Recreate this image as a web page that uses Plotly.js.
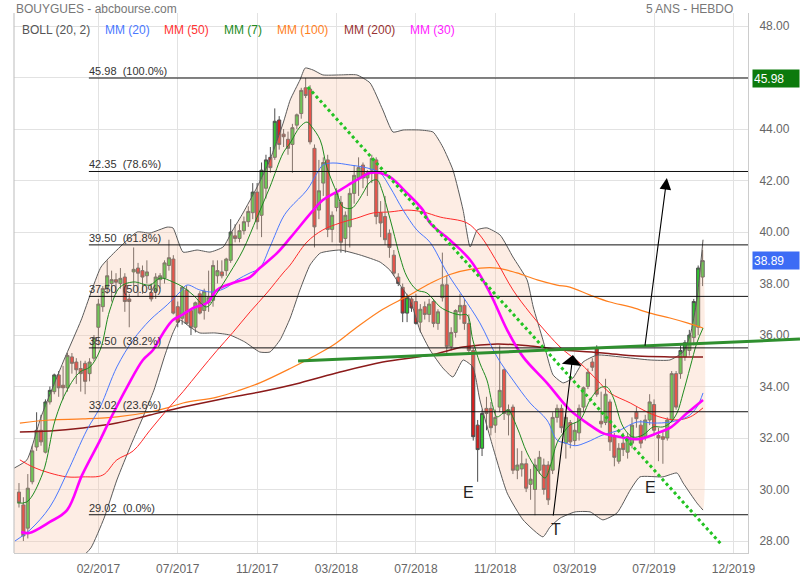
<!DOCTYPE html>
<html>
<head>
<meta charset="utf-8">
<script src="https://cdn.plot.ly/plotly-3.0.1.min.js"></script>
<style>html,body{margin:0;padding:0;background:#fff}#chart{width:800px;height:580px}</style>
</head>
<body>
<div id="chart"></div>
<script>
// ---- weekly candles (bar index 0..155) ----
const open = [29.9,29.4,28.5,30.3,31.65,32.3,31.45,33.4,33.8,34.45,
34.05,33.95,35.15,34.95,34.7,34.9,34.5,35.1,36.3,37.1,
37.85,38.0,38.15,38.0,38.25,37.4,38.45,38.6,38.5,38.3,
37.65,37.7,38.15,38.2,38.7,38.95,37.1,36.65,37.75,36.95,
36.3,37.6,36.95,37.25,37.35,38.3,38.45,38.5,38.9,39.85,
39.75,40.05,40.4,40.75,41.55,40.65,41.7,42.9,42.9,44.35,
43.8,43.6,43.4,44.15,44.6,45.6,45.55,43.25,40.85,41.9,
42.8,40.1,40.95,41.15,39.75,40.2,41.5,42.1,42.6,42.1,
42.4,42.8,40.75,40.6,39.95,39.1,38.25,37.85,36.85,37.4,
37.3,36.5,37.1,36.8,37.3,36.45,37.45,37.95,35.55,36.1,
36.9,37.15,36.45,35.4,32.5,31.6,33.15,33.15,32.5,33.2,
34.65,32.9,33.2,30.75,30.8,31.0,30.2,30.0,30.75,30.95,
30.95,30.75,32.8,33.15,31.8,32.6,31.9,32.2,33.2,34.0,
34.95,35.5,32.65,32.6,33.4,32.05,31.1,31.8,31.45,31.8,
33.0,32.5,32.05,32.7,33.3,32.1,32.05,32.0,32.7,34.5,
34.5,35.15,35.4,35.9,36.3,38.25];
const high = [30.25,29.7,30.6,31.7,33.0,32.9,33.5,34.0,34.5,34.6,
34.8,35.3,35.3,35.1,35.0,35.0,35.1,36.0,37.4,37.9,
38.9,38.5,38.4,38.6,38.4,37.6,39.4,38.8,38.7,38.9,
38.0,38.4,38.4,38.9,39.7,39.1,37.3,37.9,37.9,37.0,
37.3,37.7,37.8,38.5,38.9,38.9,38.9,39.0,40.5,40.3,
40.3,40.6,41.0,41.9,41.9,42.7,43.0,43.3,44.8,44.5,
44.0,43.9,44.2,44.6,45.6,45.98,45.7,43.4,42.8,42.9,
43.0,40.8,41.7,41.4,40.8,41.7,42.6,42.9,42.7,42.4,
43.0,42.9,41.2,41.4,40.1,39.3,38.4,38.0,37.6,37.5,
37.6,37.2,37.3,37.4,37.4,37.0,39.2,38.3,36.3,37.0,
37.6,37.4,36.8,35.5,32.7,33.1,33.6,33.4,33.1,35.6,
34.7,33.3,33.3,31.6,31.5,31.2,30.8,31.2,31.5,31.2,
31.1,33.0,33.3,33.3,32.9,32.7,32.6,33.3,34.0,34.7,
35.1,35.6,33.8,34.3,33.5,32.2,31.8,32.2,32.2,32.8,
33.2,32.7,32.9,33.7,33.5,32.4,32.3,32.8,34.6,34.6,
35.6,35.8,36.2,37.4,38.7,39.3];
const low = [29.3,28.0,28.1,30.2,31.5,31.7,31.4,33.3,33.7,33.6,
33.5,33.8,34.5,34.1,33.8,33.7,34.2,35.0,35.6,36.9,
37.6,37.3,37.6,37.8,36.9,36.3,37.9,37.5,37.6,38.0,
37.3,37.4,37.8,38.0,38.5,36.8,36.3,36.4,36.4,36.0,
36.1,36.8,36.6,36.9,37.1,38.0,38.2,38.3,38.8,39.6,
39.6,39.9,40.2,40.5,40.1,39.8,41.3,42.3,42.8,43.2,
43.3,43.0,42.3,44.0,44.4,45.2,43.4,39.4,40.5,41.4,
39.8,39.6,40.8,39.2,39.2,39.4,41.1,41.4,41.7,41.4,
41.9,40.3,39.8,39.5,39.0,38.3,37.9,36.5,36.5,36.9,
36.4,36.1,36.6,36.5,36.3,36.2,37.3,35.3,35.4,35.9,
36.6,36.2,35.3,31.9,30.3,31.3,32.3,32.1,32.2,33.0,
32.7,32.1,30.6,30.4,30.5,29.9,29.6,29.0,30.6,29.8,
29.4,30.6,32.6,32.2,31.2,31.6,31.7,31.9,33.0,33.9,
34.6,33.6,32.4,32.5,31.5,30.9,31.0,31.3,31.2,31.6,
32.4,31.6,31.9,32.5,32.1,31.1,31.0,31.9,32.6,33.1,
34.3,35.0,35.2,35.6,36.0,37.9];
const close = [29.5,28.2,30.05,31.5,32.3,31.85,33.4,33.85,34.45,33.95,
33.95,35.2,34.9,34.65,34.5,34.2,34.95,35.9,37.2,37.8,
38.3,38.15,38.05,38.2,37.3,37.3,38.55,38.4,38.25,38.45,
37.4,38.25,38.3,38.8,39.0,36.85,36.5,37.85,36.45,36.3,
37.25,36.85,37.7,37.45,38.7,38.5,38.3,38.95,40.0,39.75,
40.05,40.4,40.8,41.55,40.4,42.4,42.8,42.5,44.3,43.4,
43.7,43.25,44.05,44.55,45.5,45.3,43.5,40.2,41.6,42.7,
40.1,40.65,41.5,39.6,40.65,41.5,42.2,42.5,42.1,42.3,
42.85,40.6,40.35,39.7,39.4,38.4,38.0,36.85,37.45,37.05,
36.45,37.0,36.8,37.2,36.45,36.9,37.95,35.55,36.1,36.95,
37.15,36.45,35.4,32.05,31.55,32.95,32.95,32.4,32.8,33.85,
32.95,33.1,30.75,30.95,31.0,30.05,30.4,30.95,31.25,30.0,
29.6,32.8,33.15,32.4,32.8,31.85,32.3,33.15,33.95,34.55,
34.75,33.7,32.55,33.7,31.85,31.25,31.6,31.55,32.05,32.5,
32.75,31.8,32.7,33.4,32.3,32.0,31.95,32.7,34.5,33.2,
35.4,35.7,36.0,37.3,38.6,38.89];

// ---- indicator readings (x = bar index where read, y = price) ----
const mm7X = [-0.4,1.8,5.4,8.2,10.9,13.8,16.1,18.4,20.6,22.9,25.9,29.7,32.0,34.9,37.2,39.5,42.6,44.9,47.8,50.8,54.0,56.9,59.9,61.5,63.7,65.3,66.4,68.3,69.8,72.1,73.5,75.5,76.6,78.0,79.6,81.2,82.3,83.4,84.8,86.4,88.0,90.2,92.5,95.5,97.7,100.0,101.6,102.9,104.5,106.1,107.5,108.4,109.8,110.9,112.9,115.2,117.5,119.3,120.4,122.0,123.4,124.9,127.2,129.5,131.7,133.3,134.7,137.0,139.2,141.5,143.8,146.0,147.6,149.2,150.6,152.2,153.7,155.1];
const mm7Y = [29.48,29.52,30.64,32.7,33.86,34.56,34.76,35.42,36.97,37.86,38.06,37.94,38.21,38.06,37.86,37.55,37.09,37.63,38.41,39.3,40.58,41.75,43.07,43.46,44.08,44.27,44.08,43.57,42.52,41.51,40.97,40.93,41.13,41.51,41.94,42.02,41.63,40.97,40.08,39.03,38.25,37.75,37.63,37.09,36.89,36.78,36.78,35.81,34.91,34.25,33.2,32.82,32.97,33.09,32.43,31.42,30.76,30.45,30.87,31.81,32.19,32.5,32.7,33.48,33.94,33.98,33.59,32.43,32.04,32.12,32.43,32.43,32.58,32.97,33.75,34.76,35.69,36.27];

const mm20X = [-0.9,2.5,7.0,10.9,15.4,18.4,22.2,25.9,29.7,33.6,36.5,38.1,41.0,44.0,47.2,49.4,52.4,54.6,56.9,59.9,61.5,65.3,67.6,68.9,71.2,75.1,78.9,81.9,84.1,87.1,90.2,93.2,97.1,100.7,104.5,108.4,112.0,115.9,119.7,122.0,123.8,126.1,128.8,132.4,136.3,140.1,143.8,147.6,151.5,153.7,155.1];
const mm20Y = [28.0,28.43,29.32,30.64,32.31,33.2,34.76,35.81,36.58,37.17,37.67,37.94,37.75,37.67,37.86,38.14,38.41,38.6,39.42,40.58,40.95,41.63,42.29,42.6,42.68,42.6,42.49,42.29,41.75,40.85,40.08,39.6,38.41,37.48,36.47,35.15,34.25,33.36,32.7,31.92,31.81,31.7,31.84,32.12,32.31,32.62,32.58,32.62,32.82,33.2,33.75];

const mm30X = [0.5,2.3,7.0,10.9,14.3,18.4,20.6,24.5,28.1,30.4,32.7,34.9,37.0,39.5,42.6,44.9,48.5,52.4,54.6,58.5,61.5,66.4,68.9,72.8,76.6,79.6,81.9,84.1,88.0,91.6,93.2,97.7,102.3,106.8,110.7,114.3,119.7,124.9,128.8,132.4,136.3,140.8,144.7,147.6,151.5,155.1];
const mm30Y = [28.35,28.31,28.74,29.2,30.56,31.92,32.7,33.98,35.03,35.42,36.08,36.58,36.78,37.05,37.24,37.75,38.02,38.25,38.6,39.18,39.77,40.78,41.24,41.63,42.02,42.29,42.29,42.14,41.51,40.85,40.35,39.69,38.91,37.63,36.19,35.15,34.14,33.09,32.58,32.19,32.04,31.96,32.19,32.39,32.97,33.48];

const mm50X = [0.2,3.2,7.0,10.9,14.5,19.0,22.2,25.9,29.7,33.6,37.2,41.0,44.9,48.5,52.4,56.2,59.9,61.5,65.3,68.9,72.8,76.6,80.3,84.1,88.0,91.6,95.5,101.6,104.5,108.4,112.0,115.9,119.7,123.4,127.2,131.1,134.0,138.6,142.4,146.0,149.2,152.2,155.1];
const mm50Y = [31.15,30.87,30.64,30.49,30.49,30.56,31.15,31.5,32.3,33.1,33.8,34.6,35.4,36.1,36.9,37.63,38.41,38.72,39.61,40.08,40.35,40.54,40.74,40.78,40.85,40.78,40.58,40.35,39.88,38.83,37.75,36.85,36.08,35.42,34.91,34.25,33.75,33.36,33.01,32.78,32.7,32.82,33.17];

const mm100X = [0.2,7.0,14.5,22.2,29.7,33.6,37.2,44.9,50.1,54.6,61.5,66.0,71.2,76.6,82.5,88.0,93.2,97.7,102.3,108.4,112.9,117.5,122.0,124.9,129.5,134.0,138.6,143.1,147.6,151.5,155.1];
const mm100Y = [32.58,32.7,32.74,32.82,33.01,33.17,33.36,33.59,33.86,34.14,34.7,35.1,35.6,36.3,37.0,37.5,38.0,38.35,38.55,38.6,38.41,38.14,37.94,37.86,37.55,37.28,37.09,36.85,36.66,36.47,36.27];

const mm200X = [0.2,7.0,14.5,22.2,29.7,37.2,44.9,54.6,63.7,72.8,82.5,93.2,100.7,108.4,115.9,123.4,132.4,140.1,147.6,155.1];
const mm200Y = [32.23,32.27,32.39,32.58,32.89,33.2,33.48,33.79,34.14,34.56,34.95,35.22,35.53,35.65,35.57,35.42,35.3,35.18,35.15,35.15];

const bollUpX = [-1.1,1.8,5.0,10.2,14.1,18.6,22.2,26.8,29.7,33.6,34.9,37.2,40.4,43.3,46.3,48.5,50.8,54.0,56.9,59.9,61.5,63.7,64.9,66.7,68.9,72.8,76.6,79.6,82.5,84.8,87.1,90.9,93.9,96.1,98.4,100.7,102.3,103.9,106.1,109.1,112.0,115.2,116.6,118.8,121.1,123.4,125.6,127.9,131.1,136.3,143.1,147.6,150.6,152.2,153.7,155.1];
const bollUpY = [30.83,31.15,32.82,35.03,36.58,38.64,39.3,40.0,39.96,40.19,40.16,39.22,39.3,39.22,39.42,40.08,40.74,41.75,42.8,44.23,45.13,45.9,46.37,46.29,46.1,46.1,46.1,45.79,44.74,43.88,43.96,43.96,43.88,43.3,42.41,40.85,39.42,40.08,40.16,39.88,39.03,38.14,37.09,35.81,34.45,34.14,34.33,34.95,35.22,35.15,35.03,35.03,35.34,36.0,37.36,39.7];
const bollLoX = [-1.1,0,7.0,13.8,16.3,19.3,22.2,25.4,28.3,30.6,33.1,34.9,36.5,38.8,41.0,44.4,47.8,51.2,54.6,56.9,59.2,61.5,63.7,66.0,68.3,72.8,77.3,81.9,84.1,86.4,88.7,90.9,93.2,96.1,98.4,100.7,102.9,104.5,106.8,110.7,114.3,118.8,120.4,122.7,126.1,129.5,132.4,135.6,138.6,140.8,146.0,149.2,150.6,153.7,155.1];
const bollLoY = [26.2,26.3,26.6,27.3,27.73,28.89,30.37,31.73,32.89,33.86,35.22,36.08,36.58,36.31,36.08,36.08,36.0,35.73,35.34,35.34,35.81,36.66,37.75,38.72,39.18,39.3,39.11,38.83,38.52,37.94,37.36,36.19,35.42,34.72,34.37,35.03,34.76,33.48,32.04,29.86,28.82,28.16,28.54,28.89,29.13,29.13,28.82,29.09,29.98,30.49,30.49,30.64,30.25,29.48,29.2];

// ---- Fibonacci retracement ----
const fibLevels = [45.98, 42.35, 39.50, 37.50, 35.50, 33.02, 29.02];
const fibPct = ['100.0%', '78.6%', '61.8%', '50.0%', '38.2%', '23.6%', '0.0%'];

// ---- drawn trend lines: [x0, y0, x1, y1] ----
const resistanceLine = [0.387, 34.99, 1.0708, 35.84];  // x in paper fraction
const downTrend = [65.5, 45.63, 159.4, 27.84];            // x in bar index
const arrowUp1 = [121.1, 28.93, 125.6, 35.22];
const arrowUp2 = [141.9, 35.53, 146.9, 42.1];
const markers = [{t:'E', x:102.0, y:29.9}, {t:'T', x:121.8, y:28.43}, {t:'E', x:143.1, y:30.06}];

// ---- axis labels ----
const tickBars = [18, 36, 54, 72, 90, 108, 126, 144, 162];
const tickLabels = ['02/2017','07/2017','11/2017','03/2018','07/2018','11/2018','03/2019','07/2019','12/2019'];
const lastClose = 38.89;
const legendItems = [
  {t:'BOLL (20, 2)', c:'#555555', x:20},
  {t:'MM (20)', c:'#4a78ff', x:103},
  {t:'MM (50)', c:'#ff3333', x:162},
  {t:'MM (7)', c:'#228b22', x:222},
  {t:'MM (100)', c:'#ff7f1e', x:275},
  {t:'MM (200)', c:'#993333', x:342},
  {t:'MM (30)', c:'#ff22ff', x:408}
];

const idx = close.map((_, i) => i);
const font = 'Liberation Sans, Arial, sans-serif';

const traces = [];
// Bollinger fill
traces.push({
  type:'scatter', mode:'lines',
  x: bollUpX.concat(bollLoX.slice().reverse()),
  y: bollUpY.concat(bollLoY.slice().reverse()),
  fill:'toself', fillcolor:'rgba(250,200,170,0.32)',
  line:{width:0, shape:'spline', smoothing:0.5}, hoverinfo:'skip'
});
traces.push({type:'scatter', mode:'lines', x:bollUpX, y:bollUpY, line:{color:'#5a5a5a', width:1, shape:'spline', smoothing:0.5}, hoverinfo:'skip'});
traces.push({type:'scatter', mode:'lines', x:bollLoX, y:bollLoY, line:{color:'#5a5a5a', width:1, shape:'spline', smoothing:0.5}, hoverinfo:'skip'});
// candles
traces.push({
  type:'candlestick', x:idx, open:open, high:high, low:low, close:close,
  increasing:{line:{color:'#4d4d4d', width:1}, fillcolor:'#2fc42f'},
  decreasing:{line:{color:'#4d4d4d', width:1}, fillcolor:'#e01e1e'},
  whiskerwidth:0, hoverinfo:'skip'
});
// moving averages
traces.push({type:'scatter', mode:'lines', x:mm200X, y:mm200Y, line:{color:'#8b1a1a', width:1.5, shape:'spline'}, hoverinfo:'skip'});
traces.push({type:'scatter', mode:'lines', x:mm100X, y:mm100Y, line:{color:'#ff7f1e', width:1.2, shape:'spline'}, hoverinfo:'skip'});
traces.push({type:'scatter', mode:'lines', x:mm50X, y:mm50Y, line:{color:'#ff2a2a', width:1, shape:'spline'}, hoverinfo:'skip'});
traces.push({type:'scatter', mode:'lines', x:mm20X, y:mm20Y, line:{color:'#4a78ff', width:1, shape:'spline'}, hoverinfo:'skip'});
traces.push({type:'scatter', mode:'lines', x:mm30X, y:mm30Y, line:{color:'#ff00ff', width:2.6, shape:'spline'}, hoverinfo:'skip'});
traces.push({type:'scatter', mode:'lines', x:mm7X, y:mm7Y, line:{color:'#1f8a1f', width:1, shape:'spline'}, hoverinfo:'skip'});

const shapes = [];
const annotations = [];
// left border
shapes.push({type:'line', xref:'paper', yref:'paper', x0:0, x1:0, y0:0, y1:1, line:{color:'#bbbbbb', width:1}});
fibLevels.forEach((v, k) => {
  shapes.push({type:'line', xref:'paper', yref:'y', x0:0.102, x1:1, y0:v, y1:v, line:{color:'#111111', width:1}});
  annotations.push({xref:'paper', yref:'y', x:0.101, y:v, xanchor:'left', yanchor:'bottom', showarrow:false,
    text: v.toFixed(2) + '\u00a0\u00a0(' + fibPct[k] + ')', font:{family:font, size:11, color:'#333'}, borderpad:0});
});
shapes.push({type:'line', xref:'paper', yref:'y', x0:resistanceLine[0], y0:resistanceLine[1], x1:resistanceLine[2], y1:resistanceLine[3], line:{color:'#2f8f2f', width:3}});
shapes.push({type:'line', xref:'x', yref:'y', x0:downTrend[0], y0:downTrend[1], x1:downTrend[2], y1:downTrend[3], line:{color:'#22c322', width:3, dash:'dot'}});

[[arrowUp1, 1, 3.0], [arrowUp2, 2, 2.1]].forEach(([a, h, s]) => {
  annotations.push({xref:'x', yref:'y', axref:'x', ayref:'y', x:a[2], y:a[3], ax:a[0], ay:a[1], text:'', showarrow:true,
    arrowhead:h, arrowsize:s, arrowwidth:1.1, arrowcolor:'#000'});
});
markers.forEach(m => annotations.push({xref:'x', yref:'y', x:m.x, y:m.y, text:m.t, showarrow:false, font:{family:font, size:16, color:'#222'}}));

legendItems.forEach(l => annotations.push({xref:'paper', yref:'paper', x:(l.x - 14) / 734, y:(553 - 30) / 540,
  xanchor:'left', yanchor:'middle', text:l.t, showarrow:false, font:{family:font, size:12, color:l.c}}));
annotations.push({xref:'paper', yref:'paper', x:0, y:(553 - 9) / 540, xanchor:'left', yanchor:'middle', text:'BOUYGUES - abcbourse.com', showarrow:false, font:{family:font, size:12, color:'#777'}});
annotations.push({xref:'paper', yref:'paper', x:(735 - 14) / 734, y:(553 - 9) / 540, xanchor:'right', yanchor:'middle', text:'5 ANS - HEBDO', showarrow:false, font:{family:font, size:12, color:'#777'}});
// price badges
annotations.push({xref:'paper', yref:'y', x:1, y:fibLevels[0], xanchor:'left', yanchor:'middle', xshift:4, text:fibLevels[0].toFixed(2), showarrow:false,
  bgcolor:'#0c7a0c', width:44, height:15, align:'left', font:{family:font, size:12, color:'#fff'}});
annotations.push({xref:'paper', yref:'y', x:1, y:lastClose, xanchor:'left', yanchor:'middle', xshift:4, text:lastClose.toFixed(2), showarrow:false,
  bgcolor:'#3d6cf5', width:44, height:15, align:'left', font:{family:font, size:12, color:'#fff'}});

const layout = {
  width:800, height:580,
  margin:{l:14, r:52, t:13, b:27, pad:0},
  paper_bgcolor:'#ffffff', plot_bgcolor:'#ffffff',
  showlegend:false,
  font:{family:font, size:12, color:'#666'},
  boxgap:0.3, boxgroupgap:0,
  xaxis:{range:[-1.13, 165.3], tickmode:'array', tickvals:tickBars, ticktext:tickLabels,
    showgrid:true, gridcolor:'#e2e2e2', zeroline:false, showline:true, linecolor:'#cccccc',
    ticks:'', ticklabelstandoff:5, rangeslider:{visible:false}, fixedrange:true,
    tickfont:{family:font, size:12, color:'#666'}},
  yaxis:{side:'right', range:[27.534, 48.505], tick0:28, dtick:2, tickformat:'.2f',
    showgrid:true, gridcolor:'#e2e2e2', zeroline:false, showline:true, linecolor:'#cccccc',
    ticks:'', ticklabelstandoff:8, fixedrange:true, tickfont:{family:font, size:12, color:'#666'}},
  shapes:shapes, annotations:annotations
};

Plotly.newPlot('chart', traces, layout, {staticPlot:true, displayModeBar:false});
</script>
</body>
</html>
